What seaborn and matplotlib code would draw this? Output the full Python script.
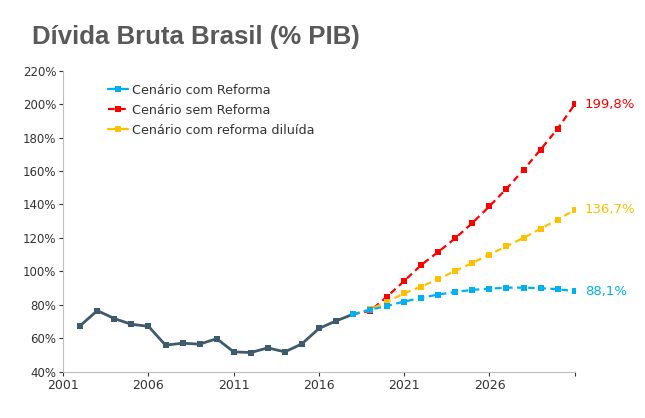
import matplotlib
matplotlib.use("Agg")
import matplotlib.pyplot as plt
from matplotlib.lines import Line2D
import seaborn as sns
import pandas as pd
import numpy as np

# historical debt (% of GDP)
hist_years = list(range(2002, 2019))
hist_vals = [67.5, 76.5, 71.7, 68.3, 67.1, 55.8, 57.0, 56.4, 59.7, 51.8,
             51.4, 54.2, 51.8, 56.6, 65.8, 70.3, 74.3]

# projections, starting from 2018
proj_years = list(range(2018, 2032))
com_reforma = [74.3, 77.0, 79.3, 81.9, 84.1, 86.1, 87.7, 88.9, 89.6, 90.2,
               90.2, 89.9, 89.3, 88.1]
sem_reforma = [74.3, 76.3, 84.9, 94.2, 103.8, 111.6, 119.8, 128.9, 138.9, 149.4,
               160.6, 172.8, 185.3, 199.8]
reforma_diluida = [74.3, 77.3, 81.7, 86.9, 90.8, 95.4, 100.2, 105.0, 110.0, 115.0,
                   120.0, 125.5, 130.9, 136.7]

series_names = ["Cenário com Reforma", "Cenário sem Reforma", "Cenário com reforma diluída"]
end_labels = ["88,1%", "199,8%", "136,7%"]
colors = ["#00b0f0", "#ff0000", "#ffc000"]
hist_color = "#3e5b6d"
text_color = "#333333"

sns.set_style("white")
plt.rcParams["font.family"] = ["DejaVu Sans"]

fig = plt.figure(figsize=(6.45, 4.18), dpi=100)
ax = fig.add_axes([0.098, 0.111, 0.793, 0.720])

hist_df = pd.DataFrame({"ano": hist_years, "divida": hist_vals})
sns.lineplot(data=hist_df, x="ano", y="divida", ax=ax, color=hist_color,
             marker="s", markersize=5, markeredgewidth=0, linewidth=2)

proj_df = pd.DataFrame({"ano": proj_years * 3,
                        "divida": com_reforma + sem_reforma + reforma_diluida,
                        "cenario": [n for n in series_names for _ in proj_years]})
# draw red first, then yellow, then blue on top
for name in [series_names[1], series_names[2], series_names[0]]:
    i = series_names.index(name)
    sub = proj_df[proj_df["cenario"] == name]
    sns.lineplot(data=sub, x="ano", y="divida", ax=ax, color=colors[i],
                 marker="s", markersize=5, markeredgewidth=0, linewidth=1.6,
                 linestyle=(0, (3, 2)))
    ax.text(2031.6, sub["divida"].iloc[-1], end_labels[i], color=colors[i],
            fontsize=9.5, va="center", ha="left")

ax.set_xlim(2001, 2031)
ax.set_ylim(40, 220)
ax.set_xticks(range(2001, 2032, 5))
ax.set_xticklabels([str(y) for y in range(2001, 2027, 5)] + [""])
yt = list(range(40, 221, 20))
ax.set_yticks(yt)
ax.set_yticklabels([f"{v}%" for v in yt])
ax.tick_params(axis="both", labelsize=9, colors=text_color, length=3,
               width=0.8, direction="out", left=True, bottom=True, pad=2)
ax.tick_params(axis="y", labelsize=8.5)
ax.set_xlabel("")
ax.set_ylabel("")
for side in ["top", "right"]:
    ax.spines[side].set_visible(False)
for side in ["left", "bottom"]:
    ax.spines[side].set_color("#bfbfbf")
    ax.spines[side].set_linewidth(0.8)

handles = [
    Line2D([], [], color=colors[0], marker="s", markersize=5, markeredgewidth=0, linewidth=1.6),
    Line2D([], [], color=colors[1], marker="s", markersize=5, markeredgewidth=0, linewidth=1.6,
           linestyle=(0, (3, 2))),
    Line2D([], [], color=colors[2], marker="s", markersize=5, markeredgewidth=0, linewidth=1.6),
]
leg = ax.legend(handles, series_names, loc="upper left", bbox_to_anchor=(0.065, 0.995),
                frameon=False, fontsize=9.2, handlelength=1.6, handletextpad=0.3,
                labelspacing=0.55, labelcolor=text_color)

fig.text(0.05, 0.895, "Dívida Bruta Brasil (% PIB)", fontsize=18.5, fontweight="bold",
         color="#595959", family=["Liberation Sans", "DejaVu Sans"])

fig.savefig("out.png", dpi=100, facecolor="white")
